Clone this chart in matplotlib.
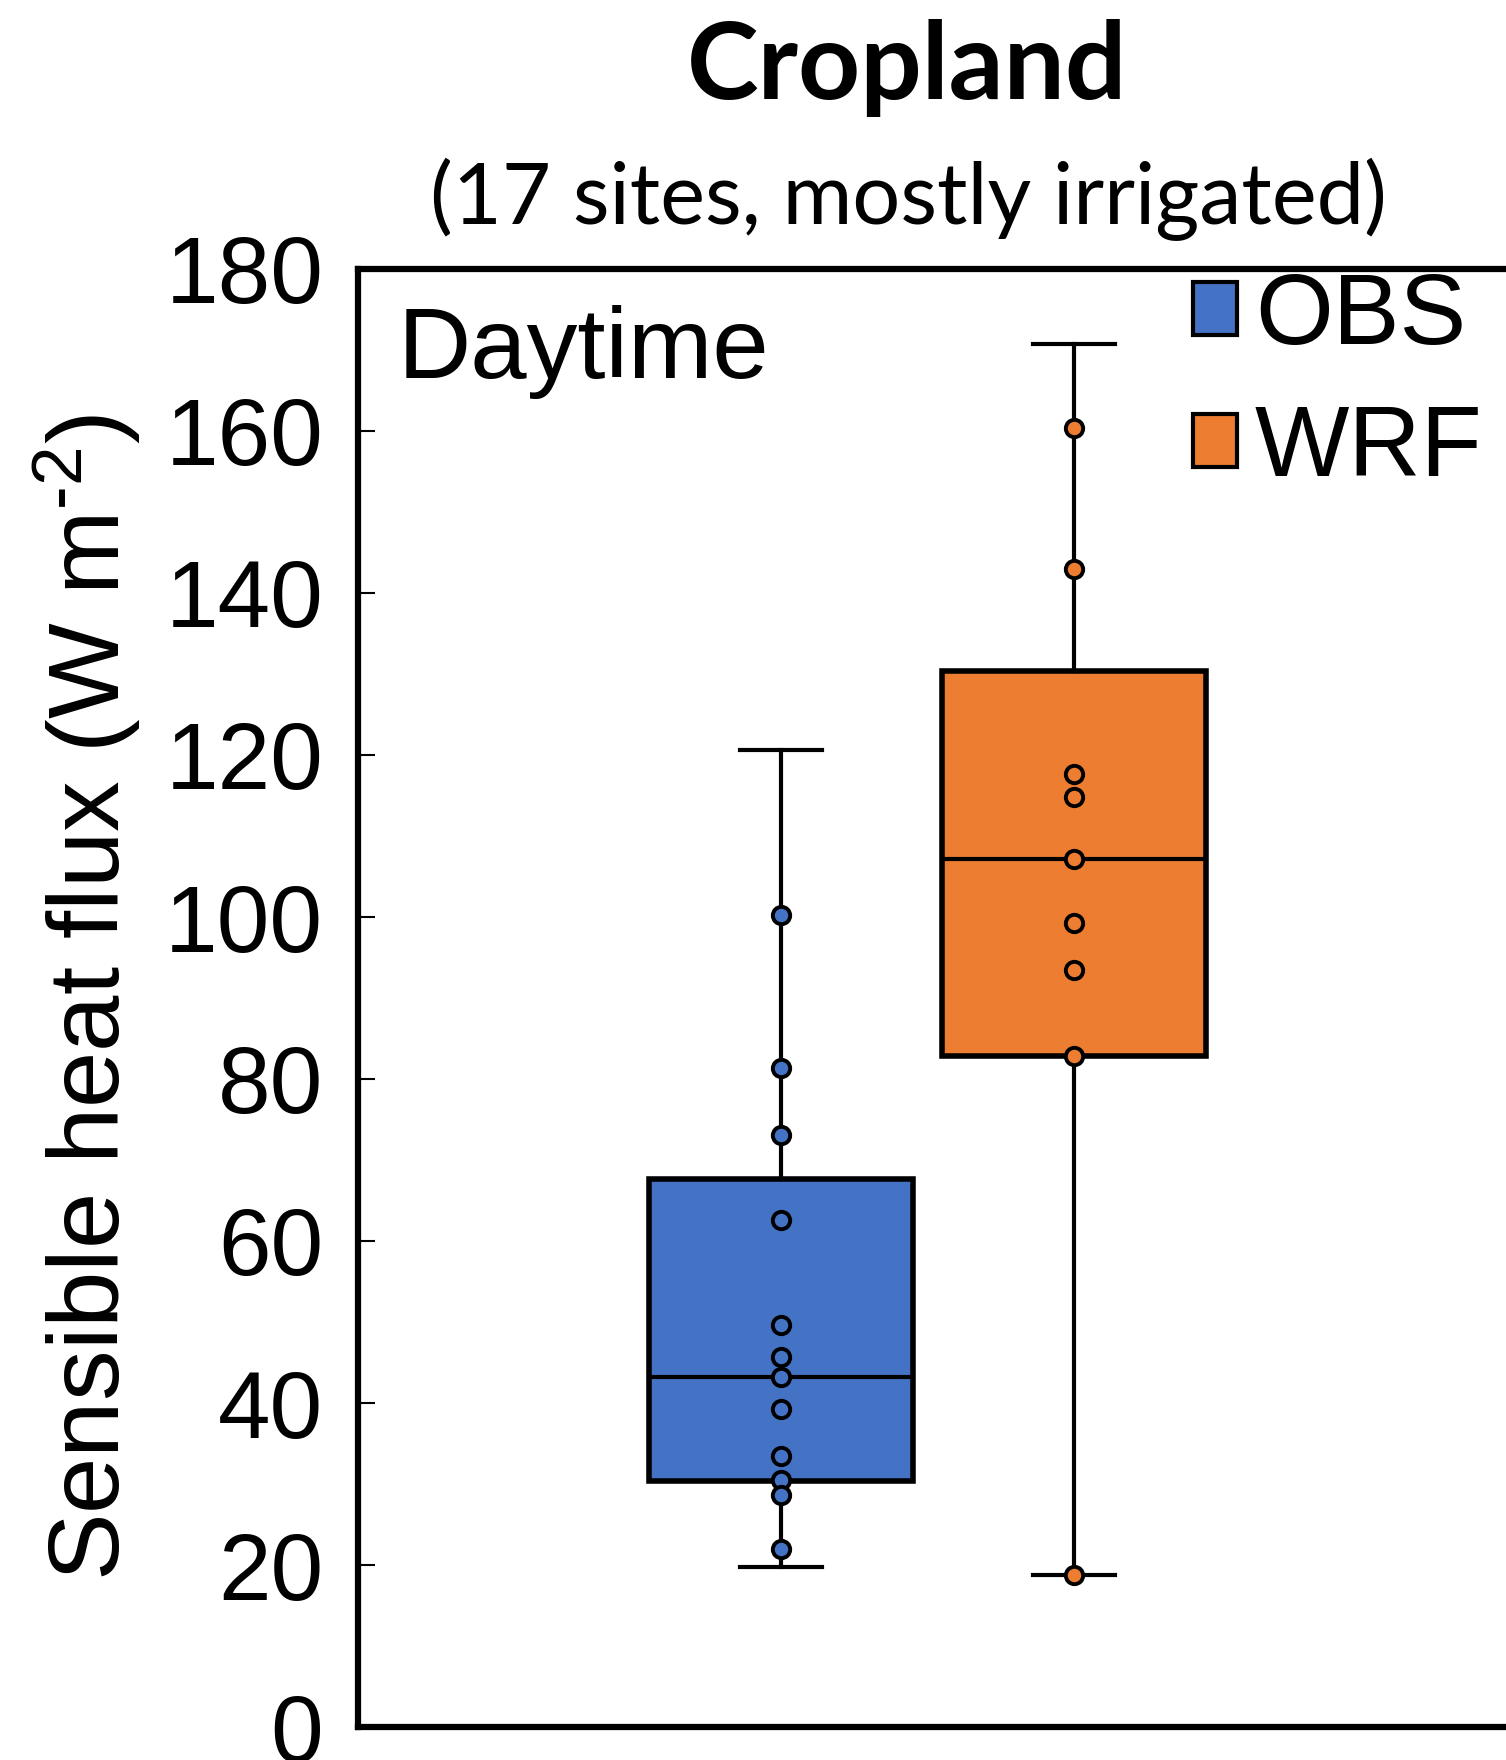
import matplotlib
matplotlib.use("Agg")
import matplotlib.pyplot as plt
from matplotlib.patches import Patch

plt.rcParams['font.family'] = ['Liberation Sans', 'DejaVu Sans']
plt.rcParams['mathtext.fontset'] = 'custom'
plt.rcParams['mathtext.rm'] = 'Liberation Sans'
plt.rcParams['mathtext.it'] = 'Liberation Sans:italic'

# Données
groupes = ["OBS", "WRF"]
couleurs = ["#4472C4", "#ED7D31"]

moustache_bas = [19.8, 18.8]
q1 = [30.4, 82.9]
mediane = [43.2, 107.2]
q3 = [67.7, 130.4]
moustache_haut = [120.6, 170.7]

points_obs = [100.3, 81.3, 73.1, 62.6, 49.6, 45.7, 43.2, 39.2, 33.5, 30.5, 28.6, 22.0]
points_wrf = [160.4, 143.0, 117.6, 114.8, 107.2, 99.3, 93.5, 82.9, 18.8]

graduations = [0, 20, 40, 60, 80, 100, 120, 140, 160, 180]


fig = plt.figure(figsize=(15.06, 17.6), dpi=100)
ax = fig.add_axes([358/1506, 33/1760, 1185/1506, 1458/1760])

stats = []
for i in range(len(groupes)):
    stats.append(dict(label=groupes[i], med=mediane[i], q1=q1[i], q3=q3[i],
                      whislo=moustache_bas[i], whishi=moustache_haut[i], fliers=[]))

boites = ax.bxp(stats, positions=[1, 2], widths=0.9, capwidths=0.28,
                patch_artist=True, showfliers=False,
                boxprops=dict(linewidth=4, edgecolor='black'),
                medianprops=dict(color='black', linewidth=3),
                whiskerprops=dict(color='black', linewidth=3),
                capprops=dict(color='black', linewidth=3))
for b, c in zip(boites['boxes'], couleurs):
    b.set_facecolor(c)

for x, pts, c in [(1, points_obs, couleurs[0]), (2, points_wrf, couleurs[1])]:
    ax.plot([x]*len(pts), pts, 'o', mfc=c, mec='black', ms=12.5, mew=2.8,
            linestyle='none', zorder=5)

ax.set_xlim(-0.4437, 3.6)
ax.set_ylim(0, 180)
ax.set_xticks([])
ax.set_yticks(graduations)
ax.tick_params(axis='y', direction='in', length=12, width=1.5, labelsize=68, pad=25)
for s in ax.spines.values():
    s.set_linewidth(4.5)

ax.set_ylabel(r'Sensible heat flux (W m$^{\text{-2}}$)', fontsize=73)
ax.yaxis.set_label_coords(-0.1806, 0.5)

ax.text(0.0338, 0.925, 'Daytime', fontsize=73, transform=ax.transAxes, va='baseline')

poignees = [Patch(facecolor=c, edgecolor='black', linewidth=3) for c in couleurs]
ax.legend(poignees, groupes, loc='upper left', bbox_to_anchor=(1193/1506, 0.846),
          bbox_transform=fig.transFigure, frameon=False, fontsize=72,
          handlelength=0.44, handleheight=0.44, handletextpad=0.18,
          labelspacing=0.38, borderpad=0, borderaxespad=0)

fig.text(907/1506, (1760-99)/1760, 'Cropland', family=['Lato', 'DejaVu Sans'],
         weight='bold', fontsize=78, ha='center', va='baseline')
fig.text(908/1506, (1760-224)/1760, '(17 sites, mostly irrigated)',
         family=['Lato', 'DejaVu Sans'], fontsize=61, ha='center', va='baseline')

fig.savefig('out.png', dpi=100)
